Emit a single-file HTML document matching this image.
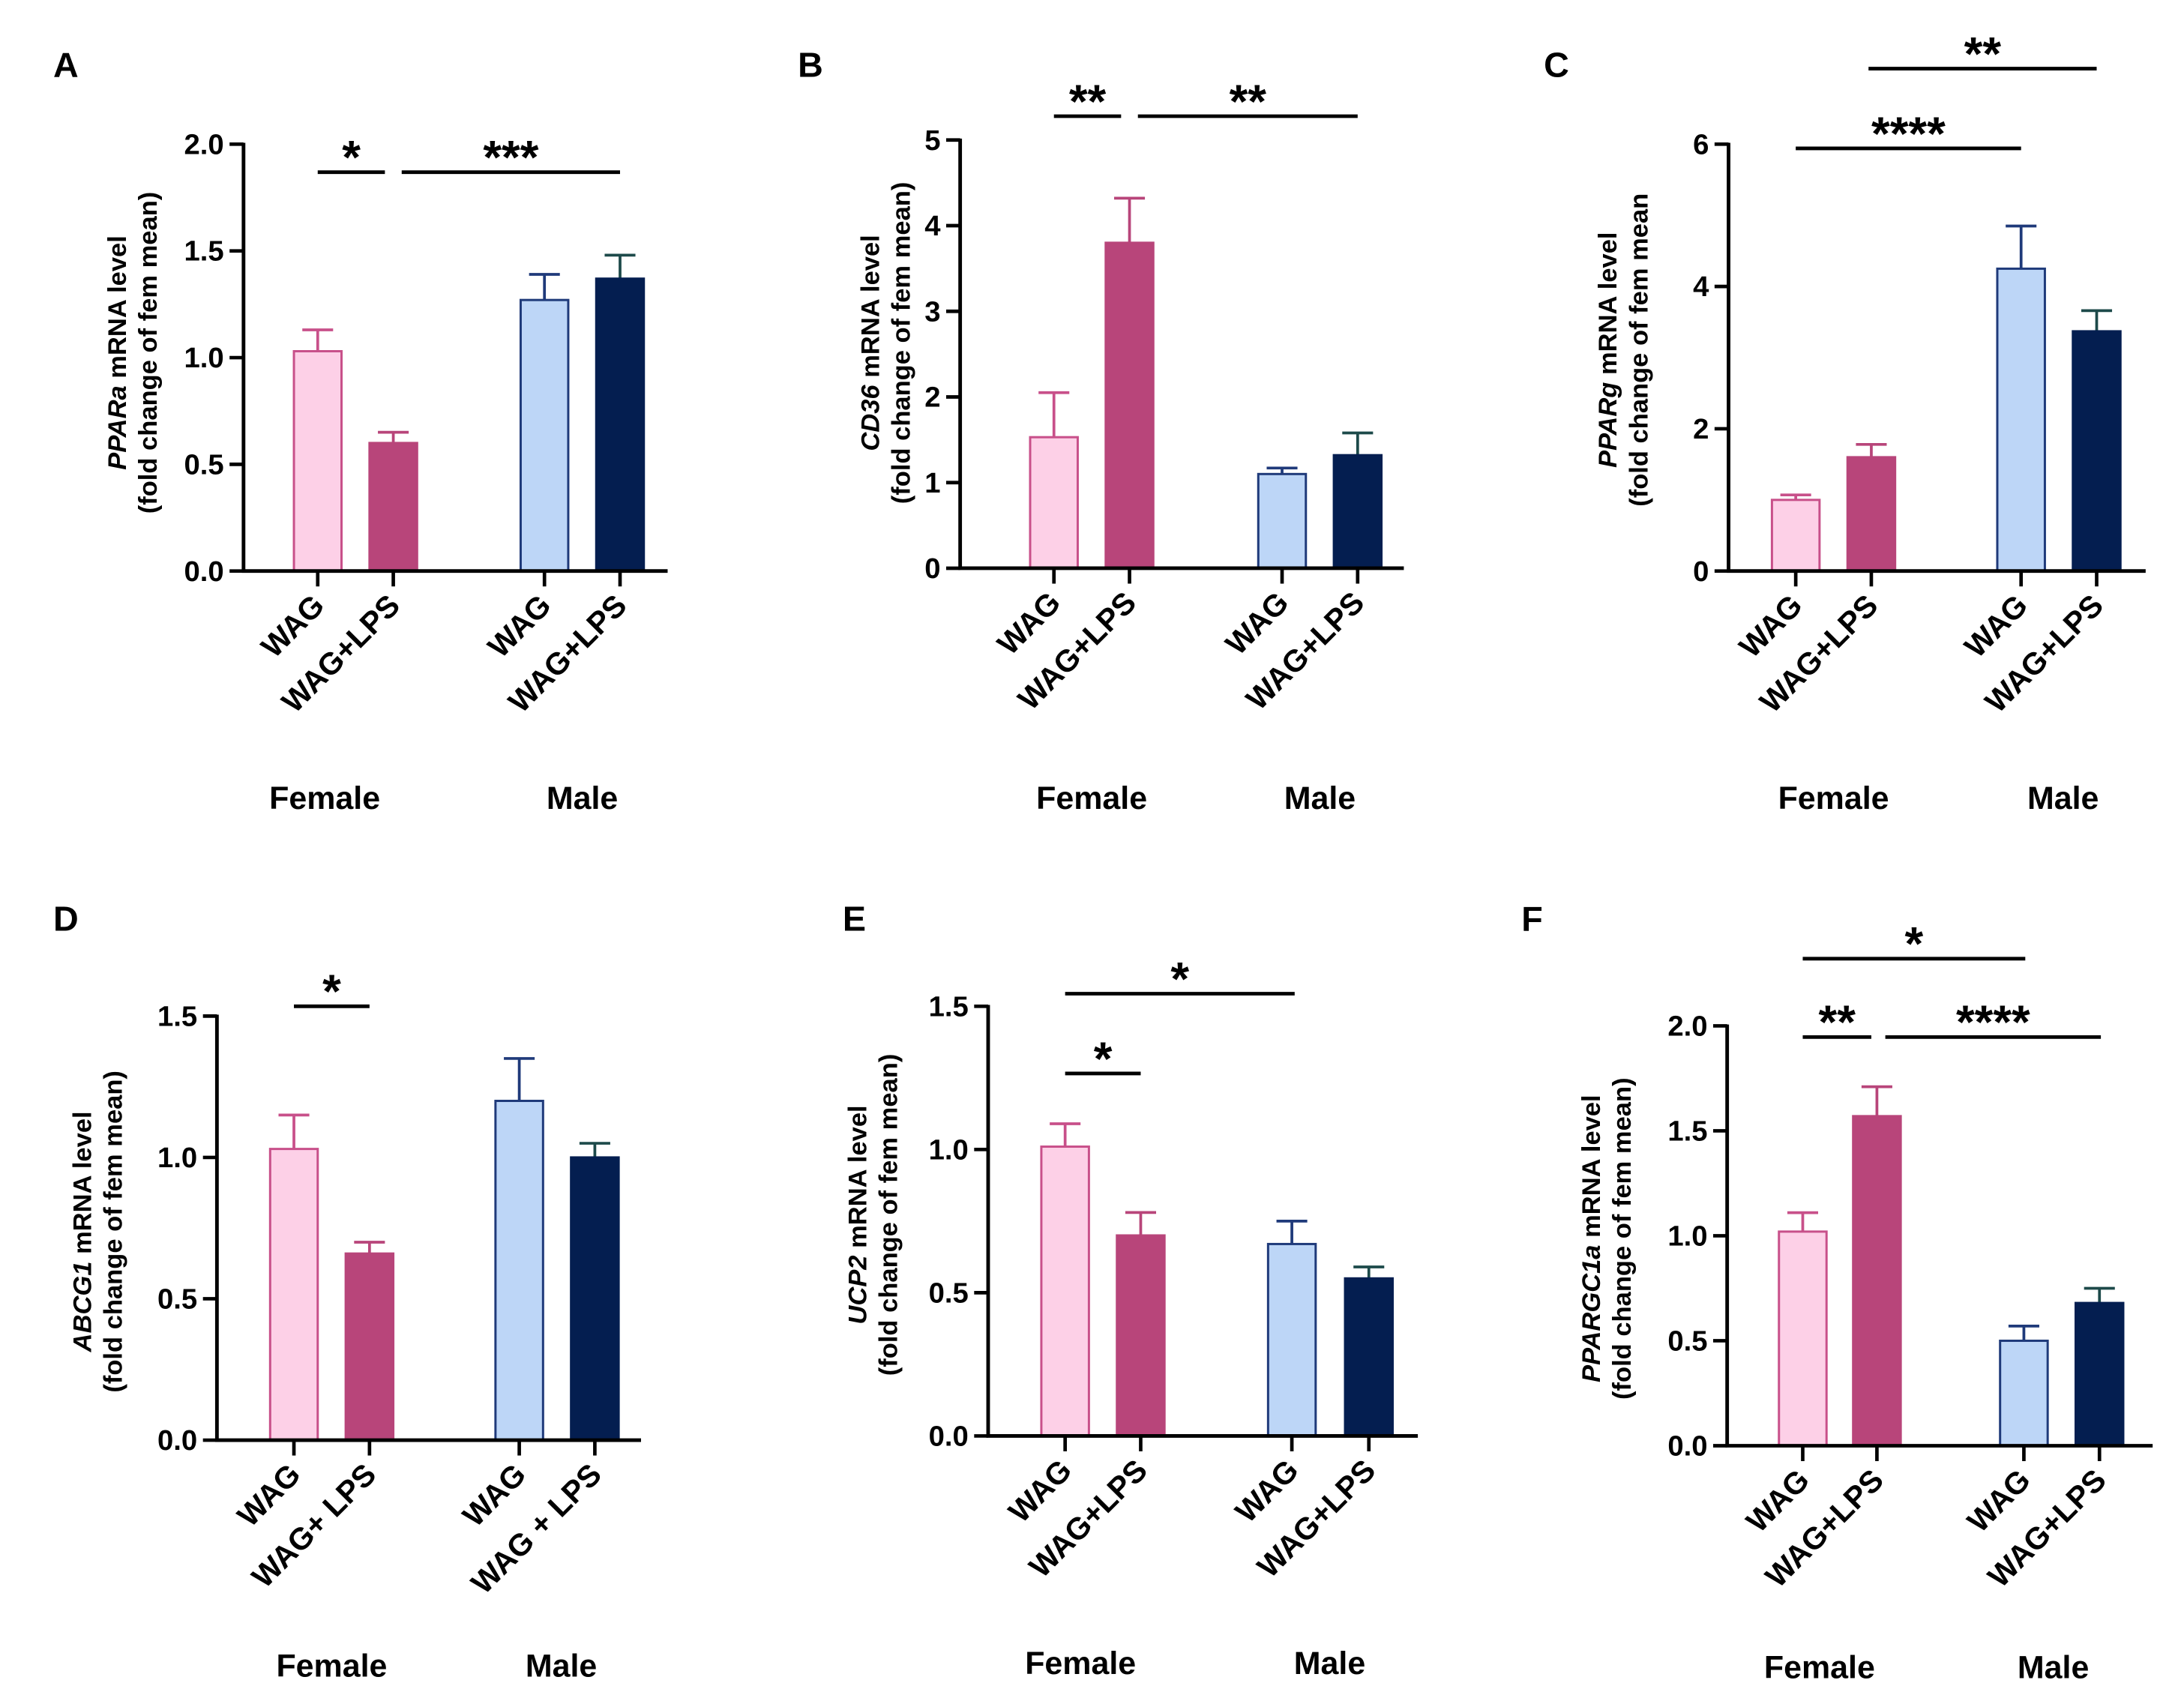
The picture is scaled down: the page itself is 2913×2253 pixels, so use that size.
<!DOCTYPE html>
<html><head><meta charset="utf-8"><style>
html,body{margin:0;padding:0;background:#fff}
svg{display:block}
text{font-family:"Liberation Sans",Arial,sans-serif;font-weight:bold;fill:#000}
</style></head><body>
<svg id="fig" width="2913" height="2253" viewBox="0 0 1560.4 1206.8" xmlns="http://www.w3.org/2000/svg"></svg>
<script>
const categories = ["WAG","WAG+LPS","WAG","WAG+LPS"];
const categoriesD = ["WAG","WAG+ LPS","WAG","WAG + LPS"];
const groups = ["Female","Male"];
const valuesA = [1.03,0.60,1.27,1.37];
const errsA = [0.10,0.05,0.12,0.11];
const valuesB = [1.53,3.80,1.10,1.32];
const errsB = [0.52,0.52,0.07,0.26];
const valuesC = [1.00,1.60,4.25,3.37];
const errsC = [0.07,0.18,0.60,0.29];
const valuesD = [1.03,0.66,1.20,1.00];
const errsD = [0.12,0.04,0.15,0.05];
const valuesE = [1.01,0.70,0.67,0.55];
const errsE = [0.08,0.08,0.08,0.04];
const valuesF = [1.02,1.57,0.50,0.68];
const errsF = [0.09,0.14,0.07,0.07];
const ticksA = [0,0.5,1.0,1.5,2.0], ticksB=[0,1,2,3,4,5], ticksC=[0,2,4,6], ticksD=[0,0.5,1.0,1.5], ticksE=[0,0.5,1.0,1.5], ticksF=[0,0.5,1.0,1.5,2.0];
const fills=["#fdd0e7","#b8457a","#bdd6f7","#041e50"];
const strokes=["#c8508a","#b8457a","#1f3a7a","#041e50"];
const errCols=["#c8508a","#b8457a","#1f3a7a","#1d4a4a"];
const NS="http://www.w3.org/2000/svg";
const svg=document.getElementById('fig');
function mk(tag,attrs,parent,txt){const e=document.createElementNS(NS,tag);for(const k in attrs)e.setAttribute(k,attrs[k]);if(txt!==undefined)e.textContent=txt;(parent||svg).appendChild(e);return e;}
const panels=[
 {id:'a',letter:'A',lx:38,ly:55,ax:174,y0:408,yt:103,xe:477,max:2,ticks:ticksA,dec:1,cx:[227,281,389,443],vals:valuesA,errs:errsA,cats:categories,gx:[232,416],gy:580,tx:90,ty:252,gene:'PPARa',
  sig:[{x1:227,x2:275,y:123,t:'*'},{x1:287,x2:443,y:123,t:'***'}]},
 {id:'b',letter:'B',lx:570,ly:55,ax:686,y0:406,yt:100,xe:1003,max:5,ticks:ticksB,dec:0,cx:[753,807,916,970],vals:valuesB,errs:errsB,cats:categories,gx:[780,943],gy:580,tx:628,ty:245,gene:'CD36',
  sig:[{x1:753,x2:801,y:83,t:'**'},{x1:813,x2:970,y:83,t:'**'}]},
 {id:'c',letter:'C',lx:1103,ly:55,ax:1235,y0:408,yt:103,xe:1533,max:6,ticks:ticksC,dec:0,cx:[1283,1337,1444,1498],vals:valuesC,errs:errsC,cats:categories,gx:[1310,1474],gy:580,tx:1155,ty:250,gene:'PPARg',
  sig:[{x1:1283,x2:1444,y:106,t:'****'},{x1:1335,x2:1498,y:49,t:'**'}],title2:'(fold change of fem mean'},
 {id:'d',letter:'D',lx:38,ly:665,ax:155,y0:1029,yt:726,xe:458,max:1.5,ticks:ticksD,dec:1,cx:[210,264,371,425],vals:valuesD,errs:errsD,cats:categoriesD,gx:[237,401],gy:1200,tx:65,ty:880,gene:'ABCG1',
  sig:[{x1:210,x2:264,y:719,t:'*'}]},
 {id:'e',letter:'E',lx:602,ly:665,ax:706,y0:1026,yt:719,xe:1013,max:1.5,ticks:ticksE,dec:1,cx:[761,815,923,978],vals:valuesE,errs:errsE,cats:categories,gx:[772,950],gy:1198,tx:619,ty:868,gene:'UCP2',
  sig:[{x1:761,x2:815,y:767,t:'*'},{x1:761,x2:925,y:710,t:'*'}]},
 {id:'f',letter:'F',lx:1087,ly:665,ax:1234,y0:1033,yt:733,xe:1538,max:2,ticks:ticksF,dec:1,cx:[1288,1341,1446,1500],vals:valuesF,errs:errsF,cats:categories,gx:[1300,1467],gy:1201,tx:1143,ty:885,gene:'PPARGC1a',
  sig:[{x1:1288,x2:1337,y:741,t:'**'},{x1:1347,x2:1501,y:741,t:'****'},{x1:1288,x2:1447,y:685,t:'*'}]}
];
panels.forEach(p=>{
 const g=mk('g',{});
 
 
 const yS=v=>p.y0-(v/p.max)*(p.y0-p.yt);
 const L=mk('text',{x:p.lx,y:p.ly,'font-size':25},g,p.letter);
 
 
 const bw=34;
 p.vals.forEach((v,i)=>{
  const cx=p.cx[i];
  const top=yS(v+p.errs[i]);
  const eb=mk('path',{d:`M${cx} ${yS(v)}V${top}M${cx-11} ${top}H${cx+11}`,stroke:errCols[i],'stroke-width':2,fill:'none'},g);
  
  
  const r=mk('rect',{x:cx-bw/2,y:yS(v),width:bw,height:p.y0-yS(v),fill:fills[i],stroke:strokes[i],'stroke-width':1.6},g);
  
  
  const tk=mk('line',{x1:cx,x2:cx,y1:p.y0,y2:p.y0+11,stroke:'#000','stroke-width':2.5},g);
  
  
  const lb=mk('text',{x:0,y:0,'font-size':22,'text-anchor':'end',transform:`translate(${cx+6},${p.y0+26}) rotate(-45)`},g,p.cats[i]);
  
  
 });
 const ax=mk('path',{d:`M${p.ax} ${p.yt-1}V${p.y0}H${p.xe}`,stroke:'#000','stroke-width':2.6,fill:'none'},g);
 
 
 p.ticks.forEach(t=>{
  const y=yS(t);
  const tl=mk('line',{x1:p.ax-10,x2:p.ax,y1:y,y2:y,stroke:'#000','stroke-width':2.5},g);
  
  
  const tt=mk('text',{x:p.ax-14,y:y+7,'font-size':20.5,'text-anchor':'end'},g,t.toFixed(p.dec));
  
  
 });
 const yt=mk('text',{x:0,y:0,'font-size':18.5,'text-anchor':'middle',transform:`translate(${p.tx},${p.ty}) rotate(-90)`},g);
 
 
 mk('tspan',{x:0,dy:0,'font-style':'italic'},yt,p.gene);
 mk('tspan',{},yt,' mRNA level');
 mk('tspan',{x:0,dy:22},yt,p.title2||'(fold change of fem mean)');
 groups.forEach((gn,k)=>{
  const gt=mk('text',{x:p.gx[k],y:p.gy-2,'font-size':23,'text-anchor':'middle'},g,gn);
  
  
 });
 p.sig.forEach(s=>{
  const sl=mk('line',{x1:s.x1,x2:s.x2,y1:s.y,y2:s.y,stroke:'#000','stroke-width':2.6},g);
  
  
  const st=mk('text',{x:(s.x1+s.x2)/2,y:s.y+1,'font-size':34,'text-anchor':'middle'},g,s.t);
  
  
 });
});
</script>
</body></html>
